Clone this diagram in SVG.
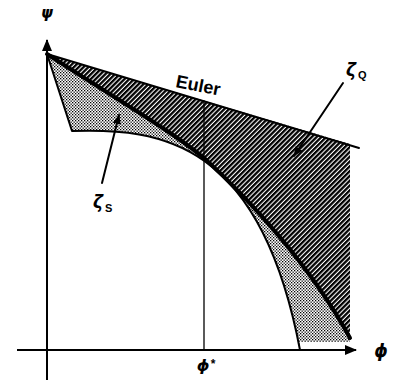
<svg xmlns="http://www.w3.org/2000/svg" width="397" height="385" viewBox="0 0 397 385">
<defs>
<pattern id="hatch" width="3.4" height="3.4" patternUnits="userSpaceOnUse" patternTransform="rotate(45)">
<rect x="0" y="0" width="2.3" height="3.4" fill="#000"/>
</pattern>
<pattern id="stipple" width="3" height="3" patternUnits="userSpaceOnUse">
<rect x="0" y="0" width="1.3" height="1.3" fill="#000"/>
<rect x="1.5" y="1.5" width="1.3" height="1.3" fill="#000"/>
</pattern>
<marker id="arr" viewBox="0 0 10 10" refX="9" refY="5" markerWidth="10" markerHeight="10" markerUnits="userSpaceOnUse" orient="auto">
<path d="M0,1 L10,5 L0,9 Z" fill="#000"/>
</marker>
<marker id="axarr" viewBox="0 0 12 10" refX="11" refY="5" markerWidth="12" markerHeight="10" markerUnits="userSpaceOnUse" orient="auto">
<path d="M0,0 L12,5 L0,10 Z" fill="#000"/>
</marker>
</defs>
<style>
.ax{stroke:#000;stroke-width:2;fill:none}
.ln{stroke:#000;fill:none;stroke-linejoin:round;stroke-linecap:round}
.gr{font-family:"DejaVu Sans",sans-serif;font-style:italic;font-weight:bold;fill:#000}
.lb{font-family:"Liberation Sans",Arial,sans-serif;font-weight:bold;fill:#000}
</style>
<g id="regions">
<path id="stipple-region" d="M47,54 C110,95 170,130 204,158 C250,200 310,265 350,338 L350,342 L300,342 L300,350 C260,140 160,128 72,131 Z" fill="url(#stipple)"/>
<path id="hatch-region" d="M47,54 L350,144 L350,338 C310,265 250,200 204,158 C170,130 110,95 47,54 Z" fill="url(#hatch)"/>
</g>
<g id="axes">
<path class="ax" d="M47,380 L47,40" marker-end="url(#axarr)"/>
<path class="ax" d="M17,350 L356,350" marker-end="url(#axarr)"/>
</g>
<g id="curves">
<path class="ln" d="M47,54 L359,148" stroke-width="2"/>
<path class="ln" d="M47,54 C110,95 170,130 204,158 C250,200 310,265 350,338" stroke-width="4"/>
<path class="ln" d="M47,54 L72,131 C160,128 260,140 300,350" stroke-width="2"/>
<path class="ln" d="M204,101 L204,350" stroke-width="1.3"/>
</g>
<g id="connectors">
<path class="ln" d="M343,83 L294,156" stroke-width="2" marker-end="url(#arr)"/>
<path class="ln" d="M102,183 L119,115" stroke-width="2" marker-end="url(#arr)"/>
</g>
<g id="labels">
<text class="gr" x="47" y="18" font-size="15" text-anchor="middle">ψ</text>
<text class="gr" x="381" y="357" font-size="17" text-anchor="middle">ϕ</text>
<text class="gr" x="203" y="371" font-size="16" text-anchor="middle">ϕ</text>
<text class="lb" x="213" y="368" font-size="12" text-anchor="middle">*</text>
<text class="lb" x="175" y="87" font-size="18" transform="rotate(11 175 87)">Euler</text>
<text class="gr" x="346" y="76" font-size="17">ζ</text>
<text class="lb" x="358" y="79" font-size="11">Q</text>
<text class="gr" x="93" y="208" font-size="17">ζ</text>
<text class="lb" x="105" y="212" font-size="11">S</text>
</g>
</svg>
